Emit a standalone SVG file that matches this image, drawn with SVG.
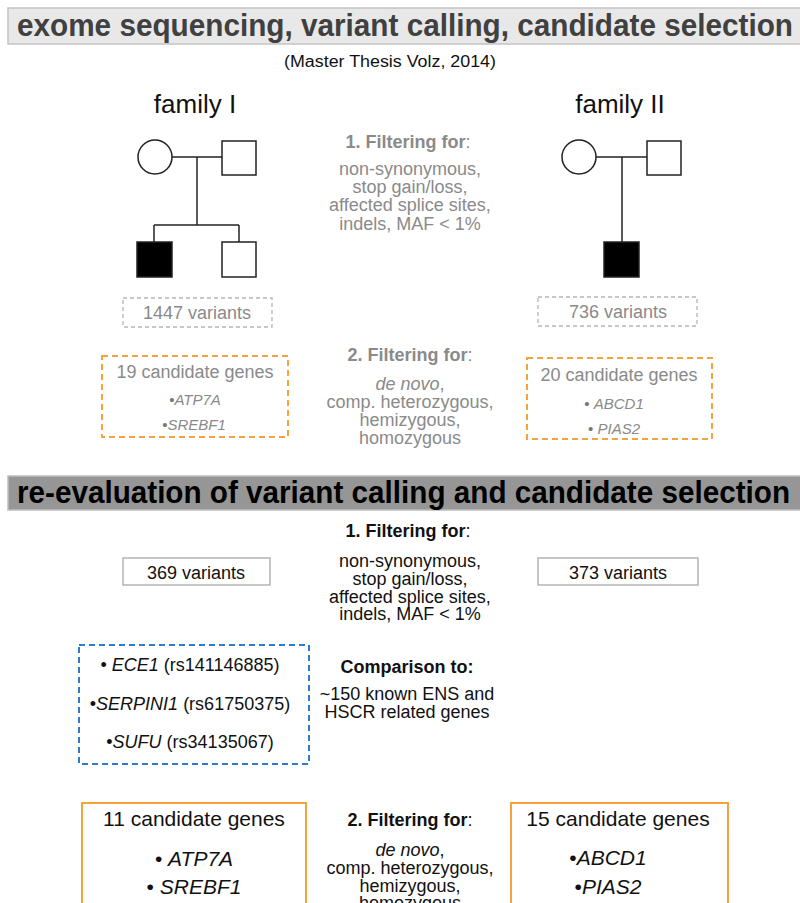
<svg xmlns="http://www.w3.org/2000/svg" width="800" height="903" viewBox="0 0 800 903">
<style>
  text { font-family: "Liberation Sans", Arial, sans-serif; }
  .g { fill: #8a8a8a; }
  .k { fill: #111; }
  .mid { text-anchor: middle; }
  .b { font-weight: bold; }
  .it { font-style: italic; }
  .dot { fill: #777; }
  .ped { fill: #fff; stroke: #222; stroke-width: 1.5; }
  .pedf { fill: #000; stroke: #222; stroke-width: 1.5; }
  .ln { stroke: #222; stroke-width: 1.5; fill: none; }
  .dgray { fill: #fff; stroke: #b5b5b5; stroke-width: 1.3; stroke-dasharray: 4 3; }
  .sgray { fill: #fff; stroke: #a8a8a8; stroke-width: 1.3; }
  .dor { fill: #fff; stroke: #f5a33a; stroke-width: 2; stroke-dasharray: 6 4; }
  .sor { fill: #fff; stroke: #f5a33a; stroke-width: 2; }
  .dbl { fill: #fff; stroke: #2f7dc8; stroke-width: 2; stroke-dasharray: 6 4; }
</style>
<rect width="800" height="903" fill="#fff"/>

<g id="title">
  <rect x="8" y="8" width="800" height="36" fill="#e8e8e8" stroke="#c4c4c4" stroke-width="1.5"/>
  <text x="17" y="36" font-size="32" class="b" fill="#404040" textLength="776" lengthAdjust="spacingAndGlyphs">exome sequencing, variant calling, candidate selection</text>
  <text x="390" y="67" font-size="16" class="mid k" textLength="212" lengthAdjust="spacingAndGlyphs">(Master Thesis Volz, 2014)</text>
</g>

<g id="family1">
  <text x="195" y="113" font-size="26" class="mid k">family I</text>
  <circle cx="155" cy="157" r="17" class="ped"/>
  <rect x="222" y="141" width="34" height="34" class="ped"/>
  <rect x="137" y="242" width="35" height="35" class="pedf"/>
  <rect x="222" y="242" width="34" height="35" class="ped"/>
</g>

<g id="family2">
  <text x="620" y="113" font-size="26" class="mid k">family II</text>
  <circle cx="579" cy="157" r="17" class="ped"/>
  <rect x="647" y="141" width="34" height="34" class="ped"/>
  <rect x="604" y="242" width="35" height="35" class="pedf"/>
</g>

<g id="connectors">
  <line x1="172" y1="157" x2="222" y2="157" class="ln"/>
  <line x1="197" y1="157" x2="197" y2="225" class="ln"/>
  <line x1="154" y1="225" x2="239" y2="225" class="ln"/>
  <line x1="154" y1="225" x2="154" y2="242" class="ln"/>
  <line x1="239" y1="225" x2="239" y2="242" class="ln"/>
  <line x1="596" y1="157" x2="647" y2="157" class="ln"/>
  <line x1="622" y1="157" x2="622" y2="242" class="ln"/>
</g>

<g id="filter1" font-size="18" class="g">
  <text x="408" y="148" class="mid"><tspan class="b">1. Filtering for</tspan>:</text>
  <text x="410" y="175" class="mid">non-synonymous,</text>
  <text x="410" y="193" class="mid">stop gain/loss,</text>
  <text x="410" y="211" class="mid">affected splice sites,</text>
  <text x="410" y="230" class="mid">indels, MAF &lt; 1%</text>
</g>

<g id="variants1447">
  <rect x="123" y="298" width="149" height="29" class="dgray"/>
  <text x="197" y="319" font-size="18" class="mid g">1447 variants</text>
</g>
<g id="variants736">
  <rect x="538" y="297" width="159" height="29" class="dgray"/>
  <text x="618" y="318" font-size="18" class="mid g">736 variants</text>
</g>

<g id="cand19">
  <rect x="102" y="356" width="186" height="81" class="dor"/>
  <text x="195" y="378" font-size="18" class="mid g">19 candidate genes</text>
  <text x="195" y="405" font-size="15" class="mid g"><tspan class="dot">•</tspan><tspan class="it">ATP7A</tspan></text>
  <text x="194" y="430" font-size="15" class="mid g"><tspan class="dot">•</tspan><tspan class="it">SREBF1</tspan></text>
</g>

<g id="filter2" font-size="18" class="g">
  <text x="410" y="361" class="mid"><tspan class="b">2. Filtering for</tspan>:</text>
  <text x="410" y="390" class="mid"><tspan class="it">de novo</tspan>,</text>
  <text x="410" y="408" class="mid">comp. heterozygous,</text>
  <text x="410" y="426" class="mid">hemizygous,</text>
  <text x="410" y="444" class="mid">homozygous</text>
</g>

<g id="cand20">
  <rect x="527" y="358" width="185" height="81" class="dor"/>
  <text x="619" y="381" font-size="18" class="mid g">20 candidate genes</text>
  <text x="614" y="409" font-size="15" class="mid g"><tspan class="dot">•</tspan> <tspan class="it">ABCD1</tspan></text>
  <text x="614" y="434" font-size="15" class="mid g"><tspan class="dot">•</tspan> <tspan class="it">PIAS2</tspan></text>
</g>

<g id="reeval">
  <rect x="8" y="476" width="800" height="34" fill="#969696" stroke="#bdbdbd" stroke-width="1.5"/>
  <text x="17" y="503" font-size="32" class="b" fill="#000" textLength="773" lengthAdjust="spacingAndGlyphs">re-evaluation of variant calling and candidate selection</text>
</g>

<g id="filter1b" font-size="18" class="k">
  <text x="408" y="537" class="mid"><tspan class="b">1. Filtering for</tspan>:</text>
  <text x="410" y="567" class="mid">non-synonymous,</text>
  <text x="410" y="585" class="mid">stop gain/loss,</text>
  <text x="410" y="603" class="mid">affected splice sites,</text>
  <text x="410" y="620" class="mid">indels, MAF &lt; 1%</text>
</g>

<g id="variants369">
  <rect x="123" y="558" width="147" height="27" class="sgray"/>
  <text x="196" y="579" font-size="18" class="mid k">369 variants</text>
</g>
<g id="variants373">
  <rect x="538" y="558" width="160" height="27" class="sgray"/>
  <text x="618" y="579" font-size="18" class="mid k">373 variants</text>
</g>

<g id="knowngenes">
  <rect x="79" y="645" width="230" height="119" class="dbl"/>
  <text x="190" y="671" font-size="18" class="mid k">• <tspan class="it">ECE1</tspan> (rs141146885)</text>
  <text x="190" y="710" font-size="18" class="mid k">•<tspan class="it">SERPINI1</tspan> (rs61750375)</text>
  <text x="190" y="748" font-size="18" class="mid k">•<tspan class="it">SUFU</tspan> (rs34135067)</text>
</g>

<g id="comparison" font-size="18" class="k">
  <text x="407" y="673" class="mid b">Comparison to:</text>
  <text x="407" y="700" class="mid">~150 known ENS and</text>
  <text x="407" y="718" class="mid">HSCR related genes</text>
</g>

<g id="cand11">
  <rect x="82" y="803" width="224" height="110" class="sor"/>
  <text x="194" y="826" font-size="21" class="mid k">11 candidate genes</text>
  <text x="194" y="866" font-size="21" class="mid k">•  <tspan class="it">ATP7A</tspan></text>
  <text x="194" y="894" font-size="21" class="mid k">•  <tspan class="it">SREBF1</tspan></text>
</g>

<g id="filter2b" font-size="18" class="k">
  <text x="410" y="826" class="mid"><tspan class="b">2. Filtering for</tspan>:</text>
  <text x="410" y="856" class="mid"><tspan class="it">de novo</tspan>,</text>
  <text x="410" y="874" class="mid">comp. heterozygous,</text>
  <text x="410" y="892" class="mid">hemizygous,</text>
  <text x="410" y="909" class="mid">homozygous</text>
</g>

<g id="cand15">
  <rect x="511" y="803" width="217" height="110" class="sor"/>
  <text x="618" y="826" font-size="21" class="mid k">15 candidate genes</text>
  <text x="608" y="865" font-size="21" class="mid k">•<tspan class="it">ABCD1</tspan></text>
  <text x="608" y="894" font-size="21" class="mid k">•<tspan class="it">PIAS2</tspan></text>
</g>
</svg>
